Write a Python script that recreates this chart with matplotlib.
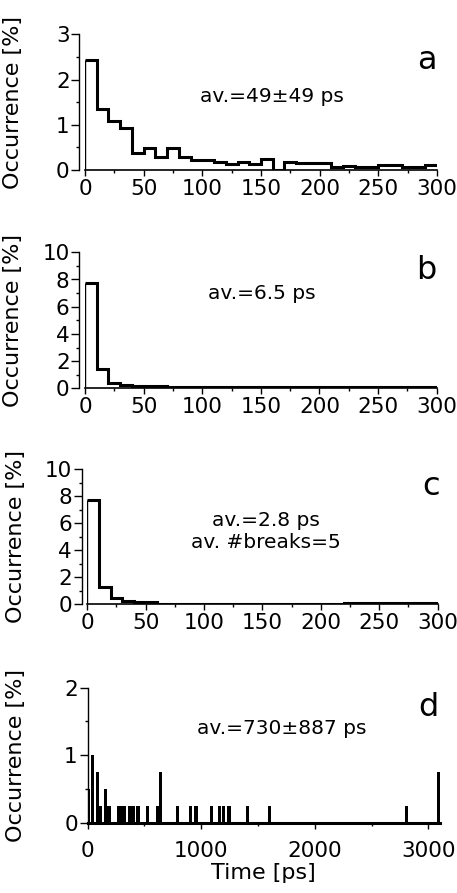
import numpy as np
import matplotlib
matplotlib.use("Agg")
import matplotlib.pyplot as plt
from matplotlib.ticker import MultipleLocator

plt.rcParams['font.family'] = ['DejaVu Sans']

# ---------------- data ----------------
edges_300 = np.arange(0, 310, 10)

occ_a = [2.43, 1.34, 1.09, 0.92, 0.38, 0.49, 0.28, 0.49, 0.28, 0.22,
         0.22, 0.18, 0.13, 0.18, 0.13, 0.24, 0.01, 0.18, 0.15, 0.15,
         0.15, 0.06, 0.09, 0.06, 0.06, 0.10, 0.10, 0.06, 0.07, 0.10]

occ_b = [7.75, 1.45, 0.42, 0.25, 0.20, 0.15, 0.15, 0.10, 0.10, 0.10,
         0.08, 0.08, 0.08, 0.08, 0.08, 0.08, 0.08, 0.08, 0.08, 0.08,
         0.08, 0.08, 0.08, 0.12, 0.10, 0.08, 0.08, 0.08, 0.08, 0.08]

occ_c = [7.75, 1.25, 0.45, 0.25, 0.15, 0.17, 0.05, 0.05, 0.05, 0.05,
         0.05, 0.05, 0.05, 0.05, 0.05, 0.05, 0.05, 0.05, 0.05, 0.05,
         0.05, 0.05, 0.08, 0.08, 0.08, 0.08, 0.08, 0.08, 0.08, 0.08]

time_d = [12, 45, 85, 115, 160, 190, 275, 300, 325, 370, 400, 445, 530,
          615, 640, 795, 905, 955, 1090, 1160, 1195, 1245, 1410, 1605,
          2810, 3090]
occ_d = [0.5, 1.0, 0.75, 0.25, 0.5, 0.25, 0.25, 0.25, 0.25, 0.25, 0.25,
         0.25, 0.25, 0.25, 0.75, 0.25, 0.25, 0.25, 0.25, 0.25, 0.25, 0.25,
         0.25, 0.25, 0.25, 0.75]
bin_d = 28

labels = ['a', 'b', 'c', 'd']
notes = ['av.=49±49 ps', 'av.=6.5 ps', 'av.=2.8 ps\nav. #breaks=5', 'av.=730±887 ps']

# ---------------- figure ----------------
W, H = 457, 893
fig = plt.figure(figsize=(W / 100, H / 100), dpi=100)

def px_axes(x0, x1, ytop, ybot):
    return fig.add_axes([x0 / W, 1 - ybot / H, (x1 - x0) / W, (ybot - ytop) / H])

axa = px_axes(85, 437, 34.3, 170)
axb = px_axes(85, 436.7, 252.3, 388.3)
axc = px_axes(87.3, 437.7, 469.3, 604.3)
axd = px_axes(87.5, 439.7, 687.7, 822.7)

FS = 15.5
NFS = 14.5

def style(ax, ymax, ymaj, ymin, xmax, xmaj, xmin):
    for s in ['top', 'right']:
        ax.spines[s].set_visible(False)
    ax.spines['left'].set_position(('outward', 4))
    ax.spines['left'].set_linewidth(1.0)
    ax.spines['bottom'].set_linewidth(1.2)
    ax.set_ylim(0, ymax)
    ax.set_xlim(0, xmax)
    ax.yaxis.set_major_locator(MultipleLocator(ymaj))
    ax.yaxis.set_minor_locator(MultipleLocator(ymin))
    ax.xaxis.set_major_locator(MultipleLocator(xmaj))
    ax.xaxis.set_minor_locator(MultipleLocator(xmin))
    ax.tick_params(axis='both', which='major', direction='out', labelsize=FS,
                   width=1.0, color='black')
    ax.tick_params(axis='y', which='major', length=6, pad=1)
    ax.tick_params(axis='x', which='major', length=4.5, pad=2)
    ax.tick_params(axis='both', which='minor', direction='out', length=2.5, width=1.0)
    ax.set_ylabel('Occurrence [%]', fontsize=16)
    ax.yaxis.set_label_coords(-0.175, 0.5)

for ax, occ, ymax, ymaj, ymin in [(axa, occ_a, 3, 1, 0.5),
                                  (axb, occ_b, 10, 2, 1),
                                  (axc, occ_c, 10, 2, 1)]:
    style(ax, ymax, ymaj, ymin, 300, 50, 25)
    ax.stairs(occ, edges_300, baseline=None, color='black', linewidth=2.2)
    ax.vlines(edges_300[0], 0, occ[0], color='black', linewidth=1.0)

style(axd, 2, 1, 0.5, 3100, 1000, 500)
axd.bar(time_d, occ_d, width=bin_d, color='black', linewidth=0)
axd.spines['bottom'].set_linewidth(2.2)
axd.spines['left'].set_position(('outward', 0))
axd.tick_params(axis='x', which='major', pad=9)
axd.set_xlabel('Time [ps]', fontsize=16, labelpad=1)

# annotations
axa.text(0.53, 0.54, notes[0], transform=axa.transAxes, ha='center', va='center', fontsize=NFS)
axb.text(0.503, 0.70, notes[1], transform=axb.transAxes, ha='center', va='center', fontsize=NFS)
axc.text(0.51, 0.54, notes[2], transform=axc.transAxes, ha='center', va='center', fontsize=NFS,
         linespacing=1.25)
axd.text(0.552, 0.70, notes[3], transform=axd.transAxes, ha='center', va='center', fontsize=NFS)

for ax, lab, (lx, ly) in zip([axa, axb, axc, axd], labels,
                             [(0.97, 0.81), (0.97, 0.865), (0.98, 0.87), (0.967, 0.857)]):
    ax.text(lx, ly, lab, transform=ax.transAxes, ha='center', va='center', fontsize=23)

fig.savefig('out.png', dpi=100)
